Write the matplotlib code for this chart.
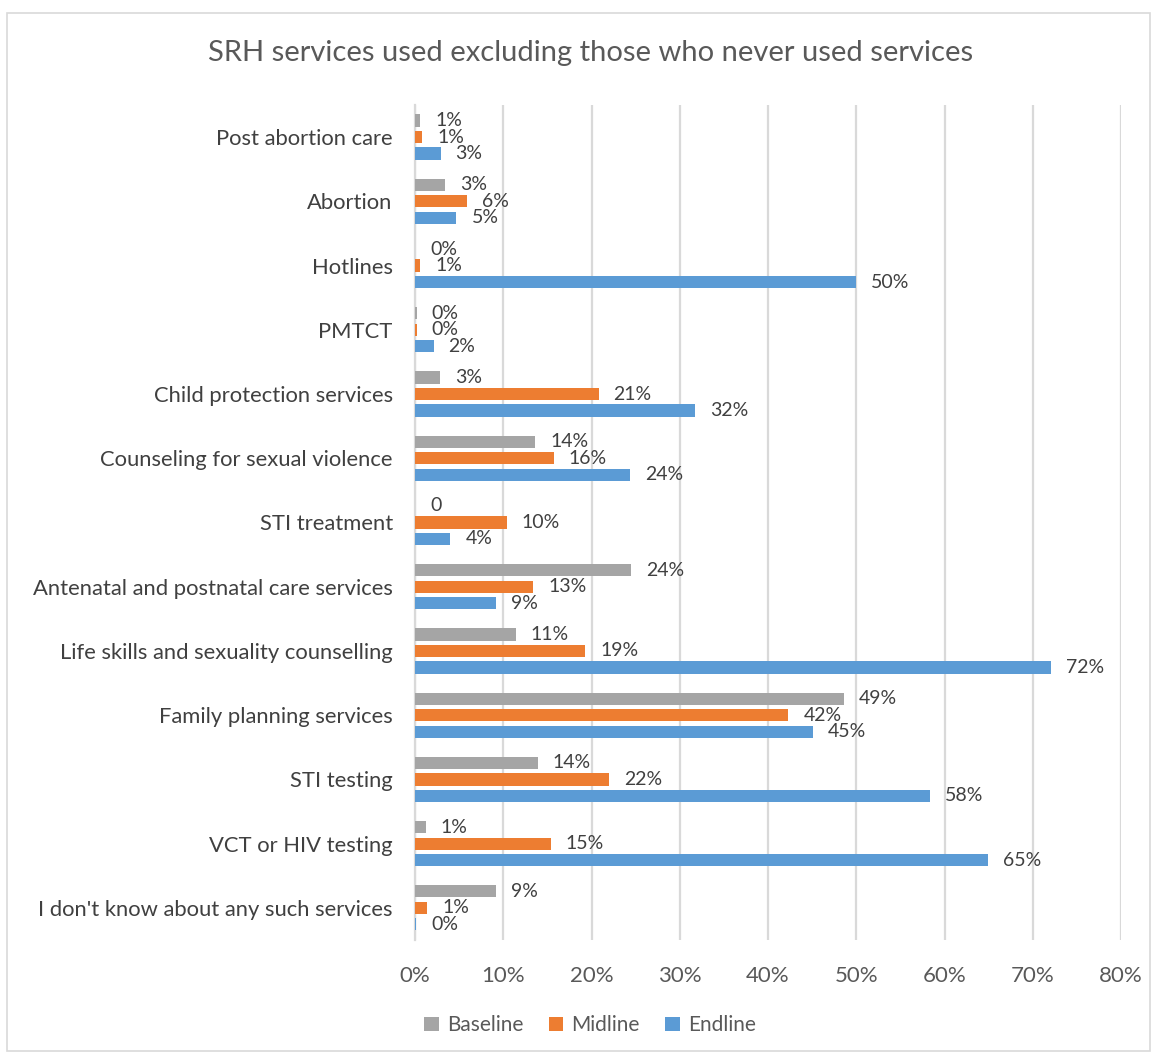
import numpy as np
import matplotlib.pyplot as plt
from matplotlib.patches import Rectangle

plt.rcParams['font.family'] = ['Lato', 'DejaVu Sans']

categories = [
    "Post abortion care",
    "Abortion",
    "Hotlines",
    "PMTCT",
    "Child protection services",
    "Counseling for sexual violence",
    "STI treatment",
    "Antenatal and postnatal care services",
    "Life skills and sexuality counselling",
    "Family planning services",
    "STI testing",
    "VCT or HIV testing",
    "I don't know about any such services",
]

# values in percent; nan = no response recorded (shown as "0")
baseline = [0.6, 3.4, 0.0, 0.2, 2.8, 13.6, np.nan, 24.5, 11.4, 48.6, 13.9, 1.2, 9.2]
midline = [0.8, 5.9, 0.6, 0.2, 20.8, 15.7, 10.4, 13.4, 19.3, 42.3, 22.0, 15.4, 1.4]
endline = [2.9, 4.7, 50.0, 2.1, 31.7, 24.4, 4.0, 9.2, 72.1, 45.1, 58.4, 64.9, 0.1]

series = [("Baseline", baseline, "#A5A5A5"),
          ("Midline", midline, "#ED7D31"),
          ("Endline", endline, "#5B9BD5")]
xticks = [0, 10, 20, 30, 40, 50, 60, 70, 80]

fig = plt.figure(figsize=(11.57, 10.57), dpi=100)
ax = fig.add_axes([0.3587, 0.1107, 0.6102, 0.7900])

n = len(categories)
ypos = np.arange(n)
offsets = [-0.257, 0.0, 0.257]
text_col = "#404040"

for (name, vals, col), off in zip(series, offsets):
    v = np.array(vals, dtype=float)
    drawn = np.nan_to_num(v, nan=0.0)
    ax.barh(ypos + off, drawn, height=0.19, color=col, label=name, zorder=3)
    for y, val, raw in zip(ypos + off, drawn, v):
        lab = "0" if np.isnan(raw) else f"{val:.0f}%"
        ax.text(val + 1.7, y, lab, va="center", ha="left",
                fontsize=14, color=text_col)

ax.set_ylim(n - 0.5, -0.5)
ax.set_xlim(0, 80)
ax.set_yticks(ypos)
ax.set_yticklabels(categories, fontsize=15.8, color=text_col)
ax.set_xticks(xticks)
ax.set_xticklabels([f"{t}%" for t in xticks], fontsize=16, color="#595959")
ax.tick_params(length=0)
ax.tick_params(axis="x", pad=19)
ax.tick_params(axis="y", pad=16)
ax.grid(axis="x", color="#D9D9D9", linewidth=1.6, zorder=0)
for s in ["top", "right", "bottom"]:
    ax.spines[s].set_visible(False)
ax.spines["left"].set_color("#D9D9D9")
ax.spines["left"].set_linewidth(1.6)

fig.text(0.510, 0.950, "SRH services used excluding those who never used services",
         ha="center", va="center", fontsize=21, color="#595959")

fig.legend(loc="center", bbox_to_anchor=(0.51, 0.030), ncol=3, frameon=False,
           fontsize=15, handlelength=0.7, handleheight=0.7,
           handletextpad=0.4, columnspacing=1.2, labelcolor="#595959")

fig.patches.append(Rectangle((0.006, 0.006), 0.988, 0.982,
                             transform=fig.transFigure, fill=False,
                             edgecolor="#D9D9D9", linewidth=1.2))

fig.savefig("out.png", dpi=100)
